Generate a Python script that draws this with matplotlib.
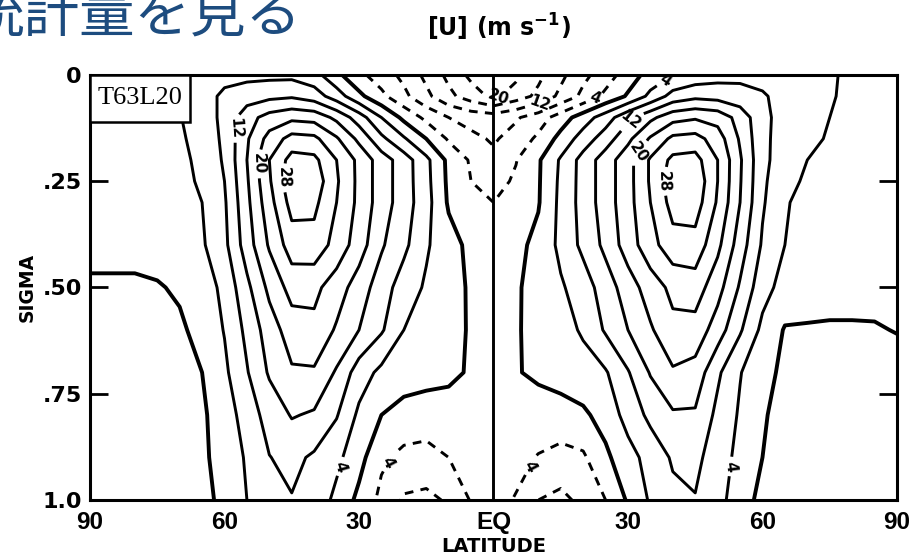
import matplotlib
matplotlib.use('Agg')
import matplotlib.pyplot as plt
import numpy as np
from matplotlib.patches import Rectangle

# grid: latitude 90S..90N every 5 deg, sigma levels top to bottom
lats = np.arange(-90, 91, 5)
sigma = [0.0, 0.05, 0.1, 0.15, 0.2, 0.25, 0.3, 0.4, 0.5, 0.6, 0.7, 0.8, 0.9, 1.0]

# zonal mean wind [U] (m/s), one list per sigma level
#         90S ............................................. EQ ............................................. 90N
u_s000 = [2, 2, 2, 2.5, 3.5, 5, 6.5, 7, 7, 7, 5.5, 1, -3, -6, -9, -13, -17, -21, -24,
          -21, -17, -13, -9, -6, -2, 1.5, 4, 5.5, 6.5, 7, 6.5, 5.5, 4.5, 4.3, 3.5, 2.5, 2]
u_s005 = [2, 2, 2, 2.5, 3.5, 6, 9, 10, 11, 11.5, 10, 6, 1, -3, -7, -11, -15, -18, -21,
          -18, -15, -11, -7, -3, 0.5, 5, 9.5, 11, 10.5, 9.5, 8.5, 6.5, 5, 4.2, 3.5, 3, 2.5]
u_s010 = [2, 2, 2, 2.5, 3.8, 6, 9, 14.5, 17.5, 19, 18.5, 15, 10, 4, -1, -5, -8, -9.5, -10,
          -8.5, -6, -2, 2, 6, 11, 15, 18.5, 19.5, 18.5, 14.5, 9, 6.5, 5, 4, 3.5, 3, 2.5]
u_s015 = [1.8, 1.8, 2, 2.5, 3.4, 5.5, 8.8, 15.5, 21.5, 25.5, 25, 20.5, 15, 9, 4.5, 0, -4.5, -7, -8.5,
          -6.4, -3.2, 1.3, 5.8, 10, 15, 20.5, 25, 25.5, 22, 15.5, 9, 6.2, 4.5, 3.8, 3.2, 2.8, 2.2]
u_s020 = [1.5, 1.5, 2, 2.5, 3, 5, 8.5, 16, 24, 29.5, 29, 24, 19, 14, 10, 5, -1, -4.5, -7,
          -4.2, -0.5, 4.5, 9.5, 14, 18.5, 24.5, 29, 29.5, 24, 16.5, 9, 6, 4, 3.5, 3, 2.5, 2]
u_s025 = [1.5, 1.5, 1.8, 2.2, 3, 4.5, 8, 15.5, 23.5, 31, 30.5, 24.5, 19, 14, 10, 5.2, -0.8, -4, -5.5,
          -3.4, -0.4, 4.8, 9.5, 14, 18.5, 24.5, 30.5, 31, 24, 16.3, 8.8, 5, 3.5, 3, 2.8, 2.5, 2.2]
u_s030 = [1.5, 1.5, 1.5, 2, 3, 4, 7.5, 15, 22.5, 29.5, 29, 24, 19, 14, 10, 5.5, -0.5, -3.5, -4,
          -2.5, -0.3, 5, 9.5, 14, 18.5, 24, 29.5, 30, 23.5, 16, 8.5, 4.3, 3, 2.5, 2.5, 2.5, 2.5]
u_s040 = [1, 1, 1, 1.5, 2.5, 3.5, 7, 14, 20.5, 26, 26.5, 22.5, 18, 12.5, 9, 4.5, 1.5, -1, -2.5,
          -1, 1, 5, 9, 13, 18, 22.5, 26.5, 26.5, 21, 14, 7.5, 4, 2.5, 2, 2, 2, 2]
u_s050 = [-0.5, -0.5, -0.5, -0.3, 0.5, 2, 5, 11, 17, 21.5, 21, 18, 14, 10, 6, 3.5, 1.5, -0.5, -2,
          -0.5, 1.5, 3.5, 6, 10, 14, 18, 21, 22, 17.5, 11.5, 5.5, 2.5, 1.5, 1, 1, 0.8, 0.7]
u_s060 = [-1, -1, -1, -1, -0.6, 1.2, 4.2, 9, 14, 18, 19, 15.5, 12, 8.5, 4, 2.5, 1, -0.3, -2,
          -0.3, 1, 2.5, 4.5, 8.5, 12, 15.5, 19, 18.5, 14, 8.5, 3, -0.3, -0.3, -0.3, -0.3, -0.2, 0.1]
u_s070 = [-1.5, -1.5, -1.5, -1.2, -0.8, 0, 3.2, 7.7, 12.5, 15.5, 15.5, 11.5, 6, 3, 2, 1.5, 1, -0.5, -2,
          -0.3, 0.8, 1.5, 2.5, 3.6, 7.7, 12.3, 15.5, 14.5, 8.7, 4.2, 1.2, -0.8, -1, -1, -1, -1, -1]
u_s080 = [-1.5, -1.5, -1.5, -1.3, -1, -0.5, 1.7, 6, 9.5, 12.3, 11.5, 8.3, 3.2, 0, -1.5, -2, -2, -2, -2.5,
          -2, -2, -1.5, -0.7, 1.5, 5.5, 9, 11.5, 11.5, 7, 3.5, 0.3, -1, -1.5, -1.5, -1.5, -1.5, -1.5]
u_s090 = [-1.5, -1.5, -1.5, -1.5, -1.2, -0.6, 1.3, 4.5, 7.9, 9, 7.4, 5, 1.4, -3.3, -5, -5.3, -4, -3, -2.5,
          -3, -4.2, -5.3, -4.6, -0.8, 2.5, 5.5, 8.5, 9, 6, 2.8, 0, -1, -1.5, -1.5, -1.5, -1.5, -1.5]
u_s100 = [-1.5, -1.5, -1.5, -1.5, -1.5, -0.8, 0.7, 4, 6.5, 7.8, 6.5, 3, -1, -5, -8.5, -9, -7.5, -3.7, -3,
          -4.2, -8, -9, -7, -4, 0.5, 4.5, 7, 7.8, 5.5, 1.6, -1, -1.5, -1.5, -1.5, -1.5, -1.5, -1.5]

U = np.array([u_s000, u_s005, u_s010, u_s015, u_s020, u_s025, u_s030, u_s040,
              u_s050, u_s060, u_s070, u_s080, u_s090, u_s100])

levels = [-20, -16, -12, -8, -4, 0, 4, 8, 12, 16, 20, 24, 28]

# where the original puts its contour labels (lat, sigma)
label_pos = {
    12: [(-57.5, 0.125), (31, 0.11)],
    20: [(-54, 0.21), (32, 0.18)],
    28: [(-48.5, 0.24), (37, 0.25)],
    4: [(40, 0.04), (-34.5, 0.92), (52, 0.92)],
    -4: [(22, 0.04), (-24, 0.91), (8, 0.92)],
    -12: [(10, 0.06)],
    -20: [(1, 0.045)],
}

bold = dict(family='DejaVu Sans', weight='bold')
narrow = dict(family=['Liberation Sans Narrow', 'Liberation Sans'], weight='bold')

fig = plt.figure(figsize=(9.11, 5.58), dpi=100)
ax = fig.add_axes([0.0988, 0.104, 0.8858, 0.7616])

# one contour set per level so each can be labelled on its own
for lv in levels:
    ls = (0, (3, 2.5)) if lv < 0 else 'solid'
    lw = 2.8 if lv == 0 else 2.1
    cs = ax.contour(lats, sigma, U, levels=[lv], colors='k', linewidths=[lw], linestyles=[ls])
    if lv in label_pos:
        txts = ax.clabel(cs, manual=label_pos[lv], inline=True, fontsize=11,
                         fmt=lambda v: f'{abs(v):g}')
        for t in txts:
            t.set_fontweight('bold')

ax.axvline(0, color='k', lw=2.1)

ax.set_xlim(-90, 90)
ax.set_ylim(1, 0)

ax.set_xticks([-90, -60, -30, 0, 30, 60, 90])
ax.set_xticklabels(['90', '60', '30', 'EQ', '30', '60', '90'], fontdict=narrow, fontsize=17.5)
ax.set_xticks([-60, -30, 30, 60], minor=True)
ax.tick_params(axis='x', which='major', length=0, pad=8)
ax.tick_params(axis='x', which='minor', top=True, bottom=False, direction='in',
               length=11, width=2)

ax.set_yticks([0, 0.25, 0.5, 0.75, 1.0])
ax.set_yticklabels(['0', '.25', '.50', '.75', '1.0'], fontdict=bold, fontsize=16)
ax.tick_params(axis='y', left=True, right=True, direction='in', length=13, width=2, pad=6)

for sp in ax.spines.values():
    sp.set_linewidth(2.2)

ax.set_xlabel('LATITUDE', fontdict=bold, fontsize=14, labelpad=2)
ax.set_ylabel('SIGMA', fontdict=bold, fontsize=13.5, labelpad=4)

# model tag in the upper left corner
ax.add_patch(Rectangle((0, 1 - 0.1106), 0.124, 0.1106, transform=ax.transAxes,
                       facecolor='white', edgecolor='k', lw=1.8, zorder=5))
ax.text(0.062, 1 - 0.0553, 'T63L20', transform=ax.transAxes, ha='center', va='center',
        family='Liberation Serif', fontsize=19, zorder=6)

fig.text(0.548, 0.951, '[U] (m s$^{\\mathbf{-1}}$)', ha='center', va='center',
         fontdict=bold, fontsize=17)

fig.text(-0.035, 0.941, '統計量を見る', ha='left', va='baseline', fontsize=40,
         color='#1d4c7f', family=['Noto Sans CJK JP', 'DejaVu Sans'])

fig.savefig('out.png', dpi=100)
